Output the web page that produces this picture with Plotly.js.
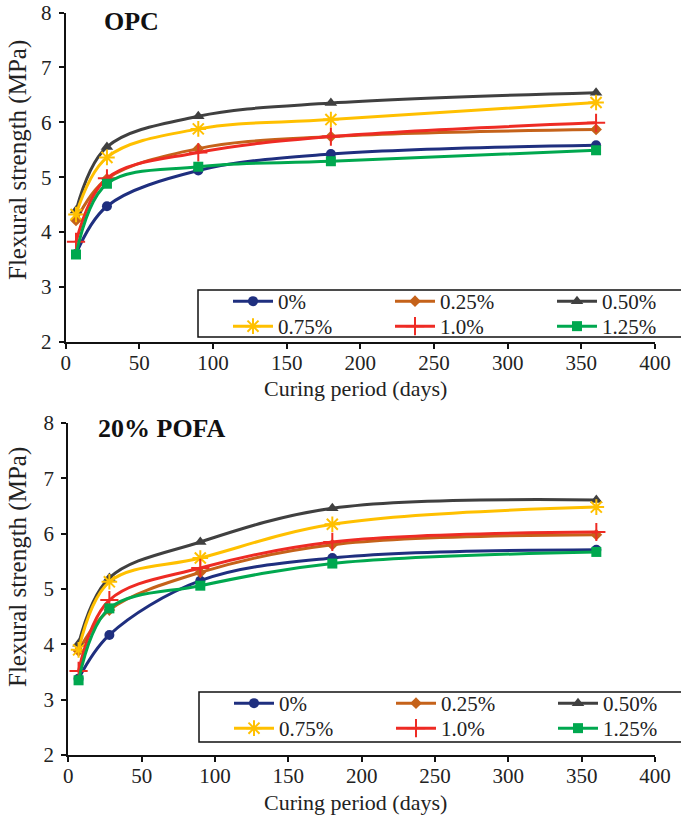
<!DOCTYPE html>
<html><head><meta charset="utf-8">
<script src="https://cdn.plot.ly/plotly-3.0.1.min.js"></script>
<style>html,body{margin:0;padding:0;background:#fff}#chart{width:681px;height:815px}</style>
</head><body><div id="chart"></div>
<script>
// ---- data ----
const curingDays = [7, 28, 90, 180, 360];
const seriesNames = ['0%', '0.25%', '0.50%', '0.75%', '1.0%', '1.25%'];
const xTickVals = [0, 50, 100, 150, 200, 250, 300, 350, 400];
const yTickVals = [2, 3, 4, 5, 6, 7, 8];
// OPC panel (MPa)
const opc_0   = [3.60, 4.47, 5.12, 5.42, 5.58];
const opc_025 = [4.21, 4.97, 5.52, 5.74, 5.87];
const opc_050 = [4.39, 5.55, 6.11, 6.35, 6.54];
const opc_075 = [4.32, 5.36, 5.88, 6.05, 6.36];
const opc_100 = [3.82, 4.98, 5.45, 5.74, 5.99];
const opc_125 = [3.59, 4.88, 5.19, 5.29, 5.49];
// 20% POFA panel (MPa)
const pofa_0   = [3.38, 4.17, 5.15, 5.56, 5.71];
const pofa_025 = [3.88, 4.62, 5.30, 5.80, 5.98];
const pofa_050 = [4.01, 5.20, 5.85, 6.46, 6.61];
const pofa_075 = [3.90, 5.13, 5.56, 6.17, 6.48];
const pofa_100 = [3.52, 4.80, 5.38, 5.85, 6.03];
const pofa_125 = [3.35, 4.65, 5.06, 5.46, 5.67];

// ---- styles ----
const colors = ['#1F2F7F', '#C5621A', '#404040', '#FFC000', '#EE2B24', '#00A84F'];
const markers = [
  {symbol:'circle', size:10},
  {symbol:'diamond', size:9},
  {symbol:'triangle-up', size:11},
  {symbol:'asterisk-open', size:13, lw:2},
  {symbol:'cross-thin-open', size:13, lw:2},
  {symbol:'square', size:10}
];
const opcSeries = [opc_0, opc_025, opc_050, opc_075, opc_100, opc_125];
const pofaSeries = [pofa_0, pofa_025, pofa_050, pofa_075, pofa_100, pofa_125];

function makeTrace(vals, i, xa, ya, leg) {
  const m = markers[i];
  const mk = {symbol:m.symbol, size:m.size, color:colors[i]};
  if (m.lw) mk.line = {color:colors[i], width:m.lw};
  return {
    x: curingDays, y: vals, name: seriesNames[i], type:'scatter', mode:'lines+markers',
    line:{color:colors[i], width:3, shape:'spline', smoothing:1},
    marker: mk, xaxis:xa, yaxis:ya, legend:leg, cliponaxis:false
  };
}
const traces = [];
// each legend row is its own legend: 3 entries per row
opcSeries.forEach((v,i)=>traces.push(makeTrace(v,i,'x','y', i<3 ? 'legend' : 'legend2')));
pofaSeries.forEach((v,i)=>traces.push(makeTrace(v,i,'x2','y2', i<3 ? 'legend3' : 'legend4')));

const FONT = 'Liberation Serif, serif';
const W = 681, H = 815;
function xAxis(d0, d1, anchor) {
  return {domain:[d0/W, d1/W], range:[0,400], tickvals:xTickVals, ticks:'outside', ticklen:5, tickwidth:2,
    tickcolor:'#111', showline:true, linewidth:2, linecolor:'#111', showgrid:false, zeroline:false,
    anchor:anchor, tickfont:{family:FONT, size:21, color:'#222'}, ticklabelstandoff:-4};
}
function yAxis(top, bottom, anchor) {
  return {domain:[1-bottom/H, 1-top/H], range:[2,8], tickvals:yTickVals, ticks:'outside', ticklen:5, tickwidth:2,
    tickcolor:'#111', showline:true, linewidth:2, linecolor:'#111', showgrid:false, zeroline:false,
    anchor:anchor, tickfont:{family:FONT, size:21, color:'#222'}, ticklabelstandoff:3};
}
function legendRow(left, top) {
  return {x:left/W, xanchor:'left', y:1-top/H, yanchor:'top', orientation:'h',
    borderwidth:0, bgcolor:'rgba(0,0,0,0)', font:{family:FONT, size:21, color:'#222'},
    entrywidth:107, itemwidth:40, traceorder:'normal'};
}
function legendBox(left, top, bottom) {
  return {type:'rect', xref:'paper', yref:'paper', x0:left/W, x1:1.01, y0:1-bottom/H, y1:1-top/H,
    line:{color:'#111', width:1.5}, fillcolor:'#fff', layer:'above'};
}
function note(text, x, y, size, opts) {
  return Object.assign({text:text, xref:'paper', yref:'paper', x:x/W, y:1-y/H, showarrow:false,
    xanchor:'center', yanchor:'middle', font:{family:FONT, size:size, color:'#222'}}, opts || {});
}

const layout = {
  width:W, height:H, margin:{l:0, r:0, t:0, b:0, autoexpand:false},
  paper_bgcolor:'#fff', plot_bgcolor:'#fff',
  font:{family:FONT, size:20, color:'#222'},
  showlegend:true,
  xaxis: xAxis(65.7, 655, 'y'),
  yaxis: yAxis(12.6, 341.7, 'x'),
  xaxis2: xAxis(68.3, 655, 'y2'),
  yaxis2: yAxis(423, 755, 'x2'),
  legend:  legendRow(228, 281),
  legend2: legendRow(228, 306),
  legend3: legendRow(229, 683),
  legend4: legendRow(229, 708),
  shapes: [legendBox(198, 290, 337), legendBox(199, 692, 742)],
  annotations: [
    note('<b>OPC</b>', 102, 22, 26, {xanchor:'left', font:{family:FONT, size:26, color:'#111'}}),
    note('<b>20% POFA</b>', 96, 428, 26, {xanchor:'left', font:{family:FONT, size:26, color:'#111'}}),
    note('Flexural strength (MPa)', 18, 160, 25, {textangle:-90}),
    note('Flexural strength (MPa)', 18, 567, 25, {textangle:-90}),
    note('Curing period (days)', 356, 388, 22),
    note('Curing period (days)', 356, 802, 22)
  ]
};
Plotly.newPlot('chart', traces, layout, {displayModeBar:false, staticPlot:true});
</script></body></html>
